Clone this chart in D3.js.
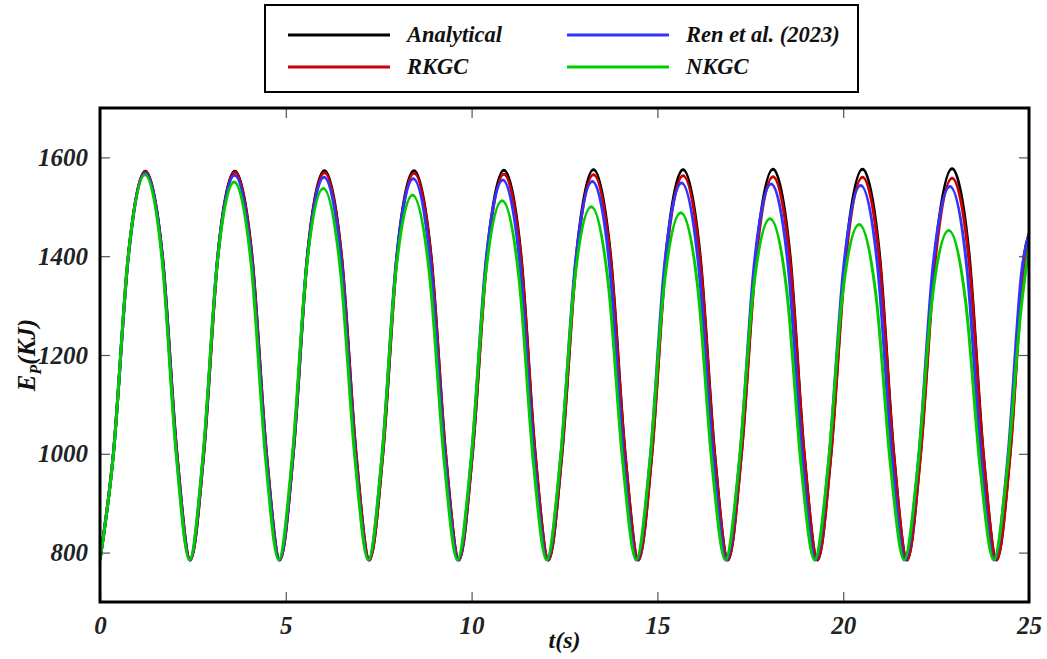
<!DOCTYPE html>
<html>
<head>
<meta charset="utf-8">
<script src="https://cdn.jsdelivr.net/npm/d3@7"></script>
<style>
  body { margin: 0; background: #fff; }
  svg text { font-family: "Liberation Serif", "Times New Roman", serif; font-weight: bold; font-style: italic; }
</style>
</head>
<body>
<svg id="chart" width="1047" height="659"></svg>
<script>
// values: time (s) and potential energy (KJ)
// each cycle: trough, ~1000 crossing, ~1400 crossing, peak, ~1400 crossing, ~1000 crossing
var tAnalytical = [
  0, 0.36, 0.76, 1.22, 1.68, 2.07,
  2.43, 2.79, 3.17, 3.63, 4.09, 4.48,
  4.84, 5.20, 5.58, 6.04, 6.50, 6.89,
  7.25, 7.61, 7.99, 8.45, 8.91, 9.30,
  9.66, 10.02, 10.41, 10.87, 11.33, 11.71,
  12.07, 12.43, 12.82, 13.28, 13.74, 14.13,
  14.49, 14.85, 15.23, 15.69, 16.15, 16.54,
  16.90, 17.26, 17.65, 18.11, 18.57, 18.95,
  19.31, 19.67, 20.06, 20.52, 20.98, 21.36,
  21.72, 22.08, 22.47, 22.93, 23.39, 23.77,
  24.13, 24.49, 24.87, 25];
var eAnalytical = [
  785, 1000, 1400, 1572, 1400, 1000,
  785, 1000, 1400, 1572, 1400, 1000,
  785, 1000, 1400, 1573, 1400, 1000,
  785, 1000, 1400, 1573, 1400, 1000,
  785, 1000, 1400, 1574, 1401, 1001,
  785, 1001, 1401, 1575, 1401, 1001,
  785, 1001, 1401, 1575, 1401, 1001,
  785, 1001, 1401, 1576, 1401, 1001,
  785, 1001, 1401, 1576, 1401, 1001,
  785, 1001, 1402, 1577, 1402, 1001,
  785, 1001, 1402, 1445];

var tRKGC = tAnalytical;
var eRKGC = [
  785, 1000, 1398, 1571, 1398, 1000,
  785, 1000, 1397, 1570, 1397, 1000,
  785, 1000, 1397, 1569, 1397, 1000,
  785, 1000, 1396, 1568, 1396, 1000,
  785, 999, 1394, 1566, 1394, 999,
  785, 999, 1393, 1565, 1393, 999,
  785, 998, 1392, 1563, 1392, 998,
  785, 998, 1390, 1561, 1390, 998,
  785, 997, 1389, 1560, 1389, 997,
  785, 997, 1388, 1558, 1388, 997,
  785, 997, 1387, 1440];

var tRen = [
  0, 0.36, 0.76, 1.22, 1.68, 2.06,
  2.42, 2.78, 3.16, 3.62, 4.08, 4.47,
  4.83, 5.19, 5.57, 6.03, 6.49, 6.87,
  7.23, 7.59, 7.97, 8.43, 8.89, 9.28,
  9.64, 10.00, 10.38, 10.84, 11.30, 11.68,
  12.04, 12.40, 12.79, 13.25, 13.71, 14.09,
  14.45, 14.81, 15.19, 15.65, 16.11, 16.50,
  16.86, 17.22, 17.60, 18.06, 18.52, 18.90,
  19.26, 19.62, 20.01, 20.47, 20.93, 21.31,
  21.67, 22.03, 22.41, 22.87, 23.33, 23.71,
  24.07, 24.43, 24.81, 25];
var eRen = [
  785, 1000, 1396, 1568, 1396, 1000,
  785, 998, 1393, 1564, 1393, 998,
  785, 997, 1390, 1560, 1390, 997,
  785, 997, 1388, 1557, 1388, 997,
  785, 996, 1385, 1554, 1385, 996,
  785, 995, 1383, 1551, 1383, 995,
  785, 994, 1380, 1548, 1380, 994,
  785, 994, 1379, 1546, 1379, 994,
  785, 993, 1376, 1543, 1376, 993,
  785, 992, 1375, 1541, 1375, 992,
  785, 992, 1373, 1445];

var tNKGC = [
  0, 0.36, 0.75, 1.21, 1.67, 2.05,
  2.41, 2.77, 3.15, 3.61, 4.07, 4.45,
  4.81, 5.17, 5.55, 6.01, 6.47, 6.86,
  7.22, 7.58, 7.95, 8.41, 8.87, 9.26,
  9.62, 9.98, 10.36, 10.82, 11.28, 11.66,
  12.02, 12.38, 12.76, 13.22, 13.68, 14.07,
  14.43, 14.79, 15.17, 15.63, 16.09, 16.47,
  16.83, 17.19, 17.57, 18.03, 18.49, 18.87,
  19.23, 19.59, 19.97, 20.43, 20.89, 21.28,
  21.64, 22.00, 22.38, 22.84, 23.30, 23.69,
  24.05, 24.41, 24.79, 25];
var eNKGC = [
  785, 999, 1393, 1565, 1393, 999,
  785, 995, 1382, 1550, 1382, 995,
  785, 991, 1371, 1537, 1371, 991,
  785, 987, 1361, 1524, 1361, 987,
  785, 984, 1352, 1512, 1352, 984,
  785, 981, 1343, 1500, 1343, 981,
  785, 978, 1334, 1488, 1334, 978,
  785, 974, 1324, 1476, 1324, 974,
  785, 971, 1315, 1464, 1315, 971,
  785, 968, 1305, 1452, 1305, 968,
  785, 966, 1296, 1420];

var seriesNames = ["Analytical", "RKGC", "Ren et al. (2023)", "NKGC"];
var seriesColors = ["#000000", "#cc0000", "#3333ff", "#00cc00"];
var xTicks = [0, 5, 10, 15, 20, 25];
var yTicks = [800, 1000, 1200, 1400, 1600];

var series = [
  { name: seriesNames[0], color: seriesColors[0], t: tAnalytical, e: eAnalytical },
  { name: seriesNames[1], color: seriesColors[1], t: tRKGC, e: eRKGC },
  { name: seriesNames[2], color: seriesColors[2], t: tRen, e: eRen },
  { name: seriesNames[3], color: seriesColors[3], t: tNKGC, e: eNKGC }
];

var svg = d3.select("#chart"),
  margin = { left: 100, top: 108, right: 18, bottom: 57 },
  width = 1047 - margin.left - margin.right,
  height = 659 - margin.top - margin.bottom;

var xScale = d3.scaleLinear().domain([0, 25]).range([0, width]),
  yScale = d3.scaleLinear().domain([700, 1700]).range([height, 0]);

var g = svg.append("g")
  .attr("transform", "translate(" + margin.left + "," + margin.top + ")");

// clip so curves stay inside the frame
g.append("clipPath").attr("id", "plotclip")
  .append("rect").attr("width", width).attr("height", height);

// curves
var line = d3.line()
  .x(function(d) { return xScale(d[0]); })
  .y(function(d) { return yScale(d[1]); })
  .curve(d3.curveMonotoneX);

g.append("g").attr("clip-path", "url(#plotclip)")
  .selectAll("path")
  .data(series)
  .enter().append("path")
  .attr("fill", "none")
  .attr("stroke", function(d) { return d.color; })
  .attr("stroke-width", 3)
  .attr("d", function(d) { return line(d.t.map(function(t, i) { return [t, d.e[i]]; })); });

// axes with inward ticks
function styleAxis(sel) {
  sel.select(".domain").remove();
  sel.selectAll(".tick line").attr("stroke", "#555").attr("stroke-width", 1.2);
  sel.selectAll(".tick text").attr("fill", "#222").style("font-size", "25px");
}

g.append("g")
  .attr("transform", "translate(0," + height + ")")
  .call(d3.axisBottom(xScale).tickValues(xTicks).tickSize(-10).tickPadding(14).tickFormat(d3.format("d")))
  .call(styleAxis);

g.append("g")
  .call(d3.axisTop(xScale).tickValues(xTicks).tickSize(-10).tickFormat(""))
  .call(styleAxis);

g.append("g")
  .call(d3.axisLeft(yScale).tickValues(yTicks).tickSize(-10).tickPadding(12).tickFormat(d3.format("d")))
  .call(styleAxis);

g.append("g")
  .attr("transform", "translate(" + width + ",0)")
  .call(d3.axisRight(yScale).tickValues(yTicks).tickSize(-10).tickFormat(""))
  .call(styleAxis);

// frame
g.append("rect")
  .attr("width", width)
  .attr("height", height)
  .attr("fill", "none")
  .attr("stroke", "#000")
  .attr("stroke-width", 3);

// axis titles
svg.append("text")
  .attr("x", margin.left + width / 2)
  .attr("y", 648)
  .attr("text-anchor", "middle")
  .attr("fill", "#111")
  .style("font-size", "24px")
  .text("t(s)");

var yLab = svg.append("text")
  .attr("transform", "translate(35," + (margin.top + height / 2) + ") rotate(-90)")
  .attr("text-anchor", "middle")
  .attr("fill", "#111")
  .style("font-size", "25px");
yLab.append("tspan").text("E");
yLab.append("tspan").attr("dy", 6).style("font-size", "16px").text("P");
yLab.append("tspan").attr("dy", -6).text("(KJ)");

// legend
var legend = svg.append("g");
legend.append("rect")
  .attr("x", 265).attr("y", 5)
  .attr("width", 593).attr("height", 87)
  .attr("fill", "#fff")
  .attr("stroke", "#000")
  .attr("stroke-width", 2);

var legendPos = [[288, 35], [288, 67], [567, 35], [567, 67]];
series.forEach(function(s, i) {
  var p = legendPos[i];
  legend.append("line")
    .attr("x1", p[0]).attr("x2", p[0] + 102)
    .attr("y1", p[1]).attr("y2", p[1])
    .attr("stroke", s.color)
    .attr("stroke-width", 3);
  legend.append("text")
    .attr("x", p[0] + 119)
    .attr("y", p[1] + 7)
    .attr("fill", "#111")
    .style("font-size", "22.5px")
    .text(s.name);
});
</script>
</body>
</html>
